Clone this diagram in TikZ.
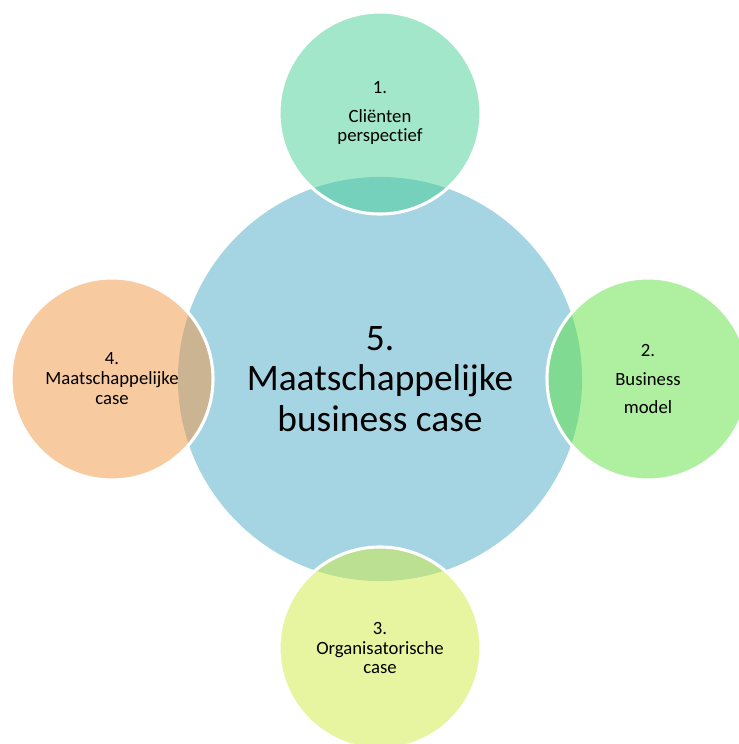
\documentclass[tikz,border=0pt]{standalone}
\usepackage{fontspec}
\setmainfont{Carlito}[Ligatures=NoCommon]
\usepackage{xcolor}

\begin{document}
\begin{tikzpicture}[x=0.025cm,y=-0.025cm,
    part/.style={circle, minimum size=5.05cm, inner sep=0pt, align=center,
      draw=white, line width=2.2pt, fill opacity=0.5, text opacity=1,
      font=\fontsize{13.3}{14.2}\selectfont}]
  % 颜色定义
  \definecolor{myblue}{RGB}{165,213,226}
  \definecolor{mymint}{RGB}{71,207,149}
  \definecolor{mygreen}{RGB}{93,223,65}
  \definecolor{myyellow}{RGB}{209,235,65}
  \definecolor{myorange}{RGB}{241,149,65}
  \useasboundingbox (0,0) rectangle (738,744);

  % 中心大圆
  \node[circle, fill=myblue, minimum size=10.1cm, inner sep=0pt, align=center,
    font=\fontsize{26.6}{29}\selectfont] (hub) at (380,379)
    {5.\\Maatschappelijke\\business case};

  % 四周小圆(半透明)
  \node[part, fill=mymint] (client) at (380,113) {1.\\[6.4pt]Cliënten\\perspectief};
  \node[part, fill=mygreen] (model) at (648,379) {2.\\[6.4pt]Business\\[6pt]model};
  \node[part, fill=myyellow] (organisation) at (380,648) {3.\\Organisatorische\\case};
  \node[part, fill=myorange] (society) at (112,379) {4.\\Maatschappelijke\\case};
\end{tikzpicture}
\end{document}
